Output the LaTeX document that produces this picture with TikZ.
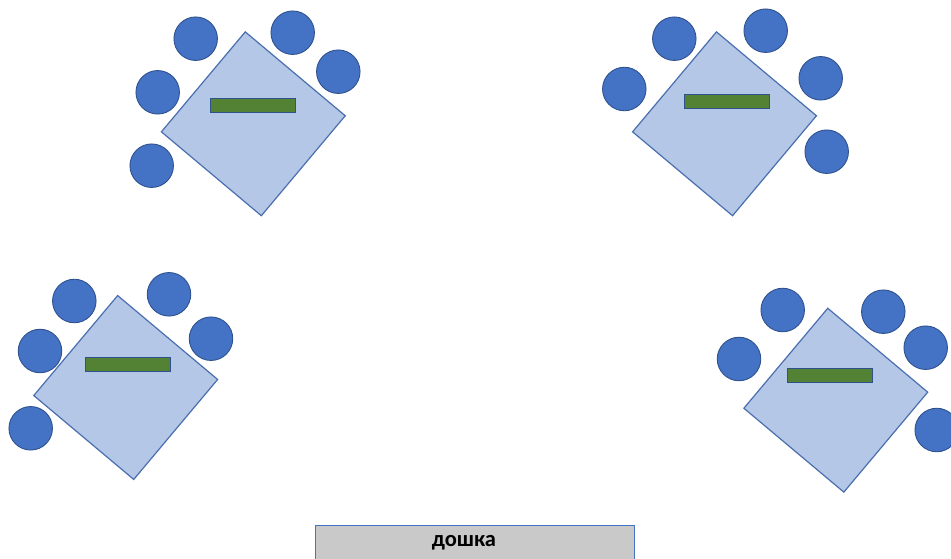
\documentclass[tikz,border=0pt]{standalone}
\usepackage{fontspec}
\newfontfamily\boardfont{Carlito}
\usepackage{xcolor}
\usepackage{tikz}
\definecolor{seatblue}{HTML}{4472C4}
\definecolor{seatline}{HTML}{2F528F}
\definecolor{deskfill}{HTML}{B4C7E7}
\definecolor{deskline}{HTML}{4A6FAE}
\definecolor{bookgreen}{HTML}{548235}
\definecolor{boardgray}{HTML}{C9C9C9}
\tikzset{
  desk/.style  = {rectangle, draw=deskline, fill=deskfill, line width=1.2pt,
                  minimum width=130.5pt, minimum height=130.5pt, inner sep=0pt, rotate=50},
  seat/.style  = {circle, draw=seatline, fill=seatblue, line width=0.9pt,
                  minimum size=43.5pt, inner sep=0pt},
  book/.style  = {rectangle, draw=seatline, fill=bookgreen, line width=0.8pt,
                  minimum width=85pt, minimum height=14pt, inner sep=0pt},
  board/.style = {rectangle, draw=seatblue, fill=boardgray, line width=1pt,
                  minimum width=319pt, minimum height=36pt, inner sep=0pt},
  boardtxt/.style = {font=\boardfont\bfseries\fontsize{22.5}{25}\selectfont, inner sep=0pt}
}

\begin{document}
\begin{tikzpicture}[x=1pt, y=-1pt]
  \clip (0,0) rectangle (951,559);
  \fill[white] (0,0) rectangle (951,559);

  % top left group
  \node[desk] (d1) at (253.3,123.8) {};
  \node[book] (b1) at (253.3,105.5) {};
  \node[seat] (s11) at (195.7,38.7) {};
  \node[seat] (s12) at (292.7,32.7) {};
  \node[seat] (s13) at (338.3,71.7) {};
  \node[seat] (s14) at (157.7,92.3) {};
  \node[seat] (s15) at (151.7,165.7) {};

  % top right group
  \node[desk] (d2) at (724.5,123.8) {};
  \node[book] (b2) at (726.5,101.2) {};
  \node[seat] (s21) at (674.3,38.7) {};
  \node[seat] (s22) at (765.7,30.7) {};
  \node[seat] (s23) at (820.7,78.3) {};
  \node[seat] (s24) at (624.3,89) {};
  \node[seat] (s25) at (826.7,151.7) {};

  % bottom left group
  \node[desk] (d3) at (125.7,387.5) {};
  \node[book] (b3) at (128.2,364.7) {};
  \node[seat] (s31) at (74.3,301) {};
  \node[seat] (s32) at (169,294.3) {};
  \node[seat] (s33) at (211,338.7) {};
  \node[seat] (s34) at (40,351) {};
  \node[seat] (s35) at (30.7,428.3) {};

  % bottom right group
  \node[desk] (d4) at (835.8,400.2) {};
  \node[book] (b4) at (830,375.5) {};
  \node[seat] (s41) at (782.7,310) {};
  \node[seat] (s42) at (883.3,311.7) {};
  \node[seat] (s43) at (925.7,347.7) {};
  \node[seat] (s44) at (739,359) {};
  \node[seat] (s45) at (936.7,430) {};

  % board
  \node[board] (brd) at (474.5,543) {};
  \node[boardtxt] (brdtxt) at (464,543) {дошка};
\end{tikzpicture}
\end{document}
